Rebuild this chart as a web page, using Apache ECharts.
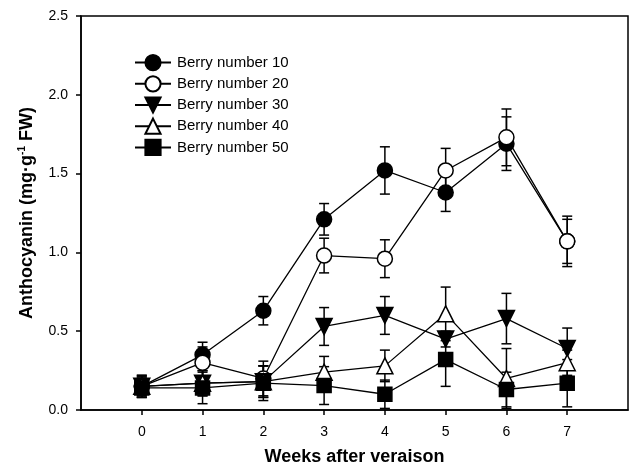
<!DOCTYPE html>
<html><head><meta charset="utf-8">
<script src="https://cdn.jsdelivr.net/npm/echarts@6/dist/echarts.min.js"></script>
<style>html,body{margin:0;padding:0;background:#fff}#c{width:632px;height:465px}</style>
</head><body><div id="c"></div>
<script>
const weeks = [0, 1, 2, 3, 4, 5, 6, 7];
const xTicks = [0, 1, 2, 3, 4, 5, 6, 7];
const yTicks = [0, 0.5, 1.0, 1.5, 2.0, 2.5];
const seriesNames = ['Berry number 10', 'Berry number 20', 'Berry number 30', 'Berry number 40', 'Berry number 50'];
const berry10 = [0.15, 0.35, 0.63, 1.21, 1.52, 1.38, 1.69, 1.07];
const berry10Err = [0.07, 0.08, 0.09, 0.10, 0.15, 0.12, 0.17, 0.14];
const berry20 = [0.15, 0.30, 0.20, 0.98, 0.96, 1.52, 1.73, 1.07];
const berry20Err = [0.07, 0.10, 0.11, 0.11, 0.12, 0.14, 0.18, 0.16];
const berry30 = [0.15, 0.17, 0.18, 0.53, 0.60, 0.45, 0.58, 0.39];
const berry30Err = [0.06, 0.08, 0.10, 0.12, 0.12, 0.05, 0.16, 0.13];
const berry40 = [0.15, 0.17, 0.18, 0.24, 0.28, 0.61, 0.20, 0.30];
const berry40Err = [0.06, 0.08, 0.10, 0.10, 0.10, 0.17, 0.19, 0.08];
const berry50 = [0.14, 0.14, 0.17, 0.155, 0.10, 0.32, 0.13, 0.17];
const berry50Err = [0.06, 0.10, 0.11, 0.12, 0.09, 0.17, 0.11, 0.15];

const values = [berry10, berry20, berry30, berry40, berry50];
const errs = [berry10Err, berry20Err, berry30Err, berry40Err, berry50Err];
const symbols = ['circle', 'circle', 'path://M0,0 L10,0 L5,9 Z', 'triangle', 'rect'];
const fills = ['#000', '#fff', '#000', '#fff', '#000'];
const sizes = [15, 15, 16, 16, 14];

const series = [];
values.forEach((vals, i) => {
  series.push({
    type: 'custom',
    name: seriesNames[i] + ' err',
    z: 1,
    silent: true,
    data: weeks.map((w, j) => [w, vals[j], errs[i][j]]),
    renderItem: function (params, api) {
      const x = api.value(0), y = api.value(1), e = api.value(2);
      const hi = api.coord([x, y + e]);
      const lo = api.coord([x, y - e]);
      const hw = 5;
      const st = { stroke: '#000', lineWidth: 1.5 };
      return {
        type: 'group',
        children: [
          { type: 'line', shape: { x1: hi[0], y1: hi[1], x2: lo[0], y2: lo[1] }, style: st },
          { type: 'line', shape: { x1: hi[0] - hw, y1: hi[1], x2: hi[0] + hw, y2: hi[1] }, style: st },
          { type: 'line', shape: { x1: lo[0] - hw, y1: lo[1], x2: lo[0] + hw, y2: lo[1] }, style: st }
        ]
      };
    }
  });
});
values.forEach((vals, i) => {
  series.push({
    type: 'line',
    name: seriesNames[i],
    z: 3 + i,
    data: weeks.map((w, j) => [w, vals[j]]),
    symbol: symbols[i],
    symbolSize: sizes[i],
    showAllSymbol: true,
    animation: false,
    lineStyle: { color: '#000', width: 1.3 },
    itemStyle: { color: fills[i], borderColor: '#000', borderWidth: 1.5, opacity: 1 }
  });
});

const chart = echarts.init(document.getElementById('c'), null, { renderer: 'canvas' });
chart.setOption({
  animation: false,
  backgroundColor: '#fff',
  textStyle: { fontFamily: 'Liberation Sans, Arial, sans-serif', color: '#000' },
  grid: { left: 81, right: 4, top: 16, bottom: 55, containLabel: false, outerBoundsMode: 'none', show: true, borderColor: '#000', borderWidth: 1.5, backgroundColor: 'transparent' },
  legend: {
    data: seriesNames,
    orient: 'vertical',
    left: 129,
    top: 49,
    itemWidth: 36,
    itemHeight: 19,
    itemGap: 4,
    textStyle: { fontSize: 15, color: '#000', fontFamily: 'Liberation Sans, Arial, sans-serif', padding: [0, 0, 0, 1] }
  },
  xAxis: {
    type: 'value',
    min: -1, max: 8, interval: 1,
    name: 'Weeks after veraison',
    nameLocation: 'middle',
    nameGap: 38,
    nameMoveOverlap: false,
    nameTextStyle: { fontSize: 18, fontWeight: 'bold', color: '#000' },
    splitLine: { show: false },
    axisLine: { onZero: false, lineStyle: { color: '#000', width: 1.5 } },
    axisTick: { show: true, length: 5, lineStyle: { color: '#000', width: 1.5 }, customValues: xTicks },
    axisLabel: { fontSize: 14, color: '#000', margin: 15, customValues: xTicks }
  },
  yAxis: {
    type: 'value',
    min: 0, max: 2.5, interval: 0.5,
    name: '{a|Anthocyanin (mg·g}{s|-1}{a| FW)}',
    nameLocation: 'middle',
    nameGap: 43,
    nameMoveOverlap: false,
    nameRotate: 90,
    nameTextStyle: {
      rich: {
        a: { fontSize: 18, fontWeight: 'bold', color: '#000', fontFamily: 'Liberation Sans, Arial, sans-serif' },
        s: { fontSize: 10, fontWeight: 'bold', color: '#000', padding: [0, 0, 11, 0], fontFamily: 'Liberation Sans, Arial, sans-serif' }
      }
    },
    splitLine: { show: false },
    axisLine: { show: true, onZero: false, lineStyle: { color: '#000', width: 1.5 } },
    axisTick: { show: true, length: 5, lineStyle: { color: '#000', width: 1.5 }, customValues: yTicks },
    axisLabel: { fontSize: 14, color: '#000', margin: 13, customValues: yTicks, formatter: v => v.toFixed(1) }
  },
  series: series
});
</script>
</body></html>
